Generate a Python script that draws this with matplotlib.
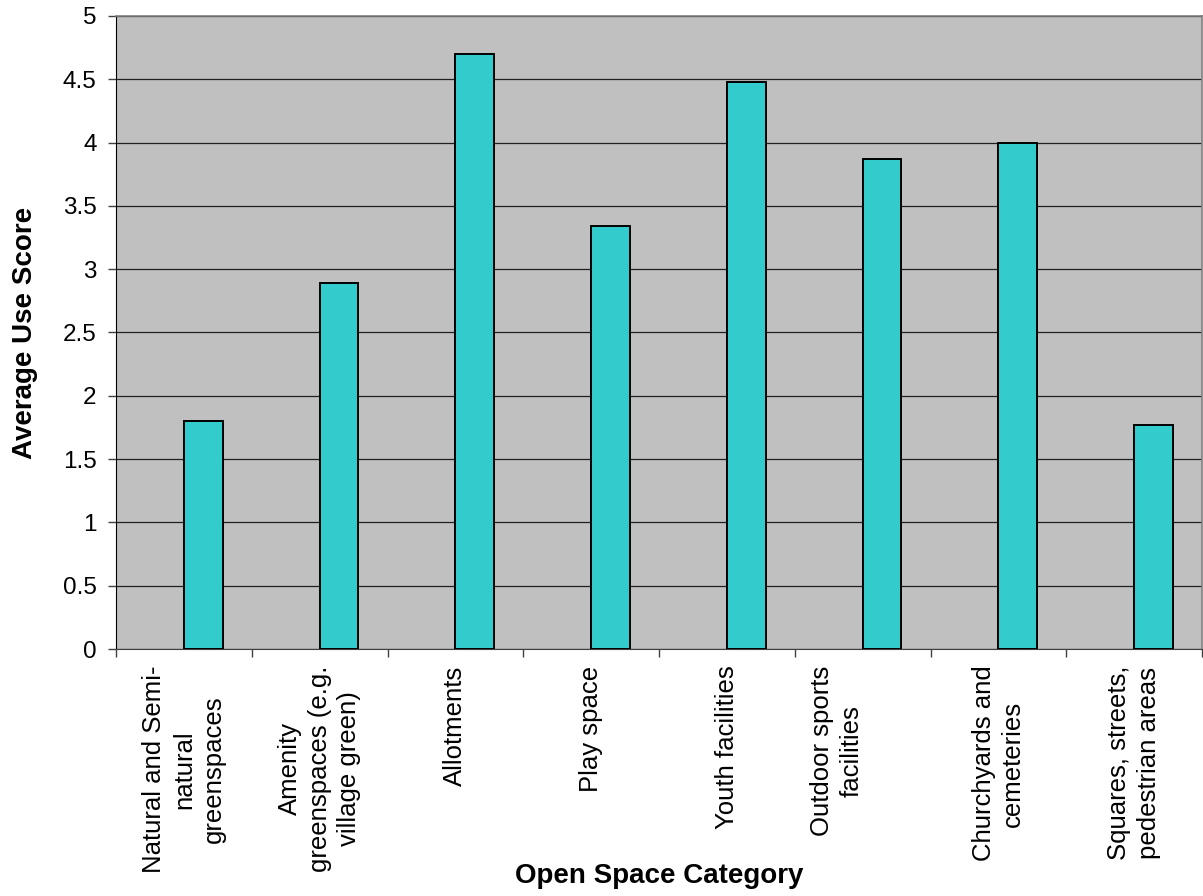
import numpy as np
import matplotlib
matplotlib.use('Agg')
import matplotlib.pyplot as plt
import matplotlib.transforms as mtransforms

plt.rcParams['font.family'] = ['Liberation Sans', 'DejaVu Sans']

categories = [
    'Natural and Semi-\nnatural\ngreenspaces',
    'Amenity\ngreenspaces (e.g.\nvillage green)',
    'Allotments',
    'Play space',
    'Youth facilities',
    'Outdoor sports\nfacilities',
    'Churchyards and\ncemeteries',
    'Squares, streets,\npedestrian areas',
]
avg_use = [1.80, 2.89, 4.70, 3.34, 4.48, 3.87, 4.00, 1.77]
y_ticks = [0, 0.5, 1, 1.5, 2, 2.5, 3, 3.5, 4, 4.5, 5]

W, H = 1203, 896
fig = plt.figure(figsize=(W / 100, H / 100), dpi=100)
ax = fig.add_axes([116 / W, (H - 649) / H, (1202 - 116) / W, (649 - 16) / H])
ax.set_facecolor('#c0c0c0')

n = len(categories)
centers = np.arange(n) + 0.5
# bars sit in the right half of each slot, like the second series of a pair
bar_w = 1 / 3.5
ax.bar(centers, avg_use, width=bar_w, align='edge', color='#33cccc',
       edgecolor='black', linewidth=1.4, zorder=3)

ax.set_xlim(0, n)
ax.set_ylim(0, 5)
ax.set_yticks(y_ticks)
ax.set_yticklabels([f'{v:g}' for v in y_ticks])
ax.yaxis.grid(True, color='#202020', linewidth=0.9, zorder=1)
ax.set_axisbelow(True)

# slot boundaries get tick marks, slot centres get the labels
ax.set_xticks(np.arange(n + 1))
ax.set_xticklabels([''] * (n + 1))
ax.set_xticks(centers, minor=True)
ax.set_xticklabels(categories, minor=True, rotation=90, fontsize=18.5,
                   linespacing=1.3)
ax.tick_params(axis='x', which='minor', length=0, pad=12)
ax.tick_params(axis='x', which='major', length=6, width=1, color='#404040',
               direction='out')
ax.tick_params(axis='y', length=6, width=1, color='#404040', direction='out',
               labelsize=17.5, pad=8)

xlabels = ax.get_xticklabels(minor=True)
for lbl in xlabels:
    lbl.set_multialignment('center')
# the sports label sits nearer the left tick
shift = mtransforms.ScaledTranslation(-26 / 100, 0, fig.dpi_scale_trans)
xlabels[5].set_transform(xlabels[5].get_transform() + shift)

for side in ['top', 'right']:
    ax.spines[side].set_color('#808080')
    ax.spines[side].set_linewidth(1.2)
ax.spines['left'].set_color('black')
ax.spines['bottom'].set_color('#404040')

ax.set_ylabel('Average Use Score', fontsize=20, fontweight='bold')
ax.yaxis.set_label_coords(-0.072, 0.5)
ax.set_xlabel('Open Space Category', fontsize=20, fontweight='bold')
ax.xaxis.set_label_coords(0.5, -0.338)

fig.savefig('out.png', dpi=100, facecolor='white')
